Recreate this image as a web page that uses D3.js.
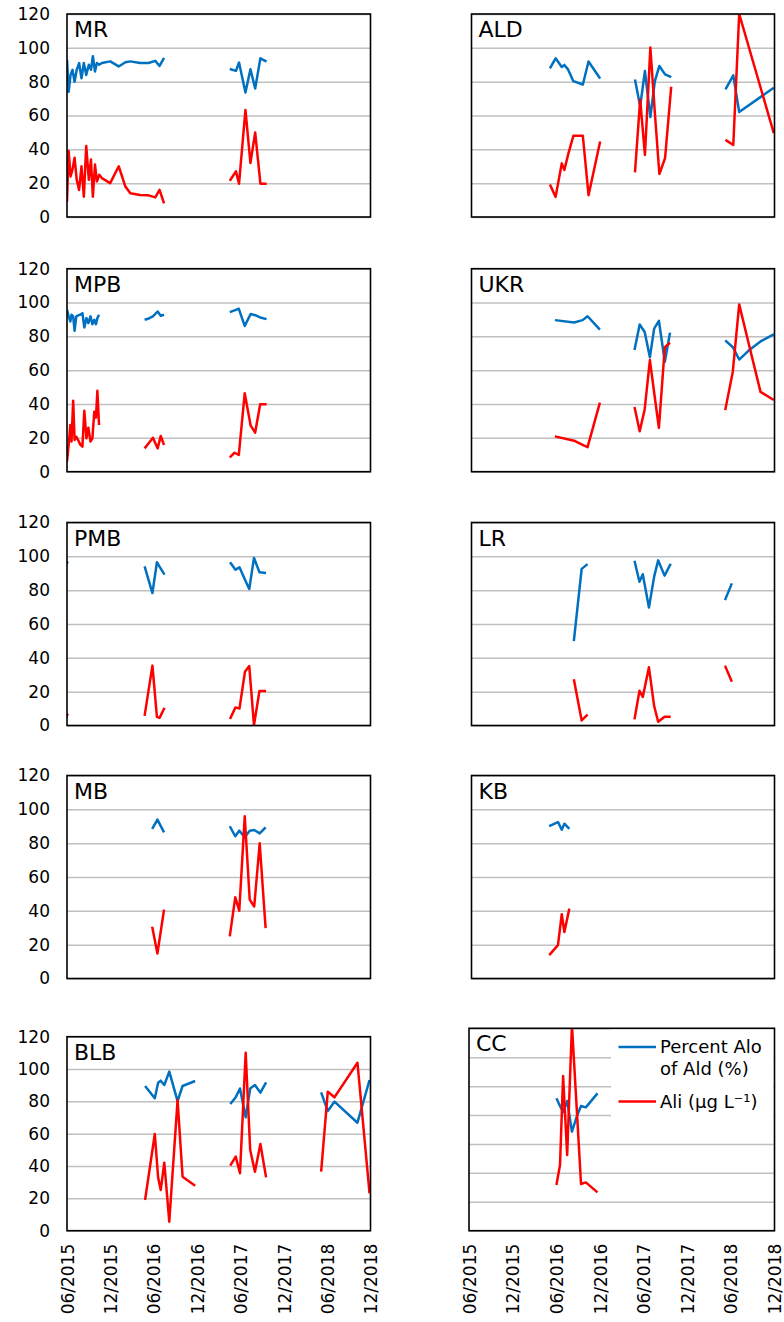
<!DOCTYPE html>
<html>
<head>
<meta charset="utf-8">
<script src="https://cdn.jsdelivr.net/npm/d3@7"></script>
<style>
  body { margin: 0; background: #fff; }
  svg text { font-family: "DejaVu Sans", Verdana, sans-serif; fill: #000; }
</style>
</head>
<body>
<div id="chart"></div>
<script>
// Sample dates per site (null = gap between seasons), Percent Alo of Ald (%), Ali (ug/L)
const MR_dates = ["2015-06-01","2015-06-08","2015-06-16","2015-06-24","2015-07-03","2015-07-12","2015-07-22","2015-08-01","2015-08-11","2015-08-21","2015-09-01","2015-09-10","2015-09-18","2015-09-27","2015-10-05","2015-10-15","2015-10-26","2015-11-30","2016-01-05","2016-02-02","2016-02-23","2016-04-04","2016-05-09","2016-06-07","2016-06-25","2016-07-14", null, "2017-04-17","2017-05-13","2017-05-26","2017-06-22","2017-07-13","2017-08-02","2017-08-24","2017-09-19"];
const MR_alo = [93,74,84,87,80,87,91,82,91,84,90,87,95,86,91,90,91,92,89,91.5,92,91,91,92.3,89.3,94, null, 87.5,86.4,91.3,73.6,87.3,76,93.8,91.9];
const MR_ali = [9,39,24,28,35,22,16,30,12,42,22,34,12,31,21,25,23,20,30,18,14,13,12.8,11.6,16,8, null, 21.4,27,19.7,63.3,31.9,50,19.7,19.7];

const ALD_dates = ["2016-04-27","2016-05-21","2016-06-16","2016-06-27","2016-07-13","2016-08-04","2016-09-13","2016-10-07","2016-11-25", null, "2017-04-21","2017-05-13","2017-06-02","2017-06-25","2017-07-14","2017-08-02","2017-08-26","2017-09-21", null, "2018-05-08","2018-06-10","2018-07-05","2018-11-28"];
const ALD_alo = [87.9,93.8,88.7,89.9,87.1,80.3,78.3,91.9,81.9, null, 81.3,65.4,86.3,59.1,80.3,89.3,84.3,82.7, null, 75.4,83.7,62.1,76.4];
const ALD_ali = [19.2,11.9,31.7,27.8,37,48,48,12.9,44.6, null, 26.4,69.4,36.7,100.2,61.5,25.4,34.7,77, null, 45.6,42.6,120,49.6];

const MPB_dates = ["2015-06-01","2015-06-08","2015-06-15","2015-06-20","2015-06-27","2015-07-03","2015-07-10","2015-07-18","2015-07-27","2015-08-05","2015-08-13","2015-08-22","2015-08-30","2015-09-08","2015-09-16","2015-09-24","2015-10-01","2015-10-07","2015-10-14", null, "2016-04-23","2016-05-11","2016-05-28","2016-06-17","2016-06-30","2016-07-14", null, "2017-04-17","2017-05-07","2017-05-25","2017-06-19","2017-07-14","2017-08-02","2017-08-23","2017-09-19"];
const MPB_alo = [95.7,91.8,88.8,92.8,91.8,83.3,91.8,92.4,92.8,93.7,85.3,90.8,87.8,91.8,87.2,89.8,87.2,90.8,92.8, null, 89.8,90.6,91.8,94.7,92.2,92.8, null, 94.3,95.4,96.3,86.2,93.2,92.5,91.2,90.2];
const MPB_ali = [5.9,15.8,27.6,17.8,42,18.7,20.7,18.7,16,14.8,36,19.7,26,17.8,19.7,35.5,32,47.8,27.6, null, 13.8,17,20.1,13.8,21.1,15.8, null, 8.5,11.2,9.9,46.4,27.2,23.1,39.9,39.9];

const UKR_dates = ["2016-05-18","2016-08-07","2016-09-12","2016-10-03","2016-11-24", null, "2017-04-19","2017-05-11","2017-06-01","2017-06-23","2017-07-11","2017-07-31","2017-08-25","2017-09-16", null, "2018-05-07","2018-06-08","2018-07-05","2018-08-14","2018-10-03","2018-11-28"];
const UKR_alo = [89.6,88.2,89.6,91.9,84, null, 72,87,82.6,67.7,84.6,89.2,65,82.2, null, 77.6,73.6,66.3,71.6,77,81.2];
const UKR_ali = [20.9,18.3,15.9,14.5,40.8, null, 38.2,23.9,36.8,66,46.8,25.9,73.6,76.2, null, 36.4,59.1,98.9,75.8,47.2,42.4];

const PMB_dates = ["2015-05-20","2015-06-05", null, "2016-04-23","2016-05-26","2016-06-14","2016-06-25","2016-07-16", null, "2017-04-18","2017-05-11","2017-05-28","2017-06-20","2017-07-08","2017-07-28","2017-08-20","2017-09-17"];
const PMB_alo = [94,97, null, 94.1,78.3,96.5,93.9,89.2, null, 96.5,92.1,93.5,86.2,80.7,99,90.6,90.2];
const PMB_ali = [3,7, null, 5.7,35.4,5.1,4.5,10.5, null, 3.8,10.7,10.1,31.8,35.2,0.2,20.4,20.4];

const LR_dates = ["2016-08-06","2016-09-08","2016-10-03", null, "2017-04-19","2017-05-10","2017-05-24","2017-06-19","2017-07-11","2017-07-28","2017-08-24","2017-09-19", null, "2018-05-06","2018-06-04"];
const LR_alo = [49.9,92.6,95.4, null, 97.4,85,89.4,69.7,88,97.6,88.6,95.6, null, 74.1,84];
const LR_ali = [27.4,3,6.4, null, 3.6,20.5,16.9,34.4,11.5,2.2,5.2,5.2, null, 35.4,25.8];

const MB_dates = ["2016-05-25","2016-06-16","2016-07-14", null, "2017-04-17","2017-05-10","2017-05-27","2017-06-19","2017-07-10","2017-07-29","2017-08-21","2017-09-15"];
const MB_alo = [88.4,93.9,86.4, null, 90,84.1,87.4,83.5,87.4,87.8,85.8,89.4];
const MB_ali = [30.6,14.8,40.7, null, 24.9,48,40.1,95.9,46.6,42.6,79.9,29.8];

const KB_dates = ["2016-04-24","2016-05-31","2016-06-16","2016-06-27","2016-07-18"];
const KB_alo = [90.1,92.5,87.9,91.5,88.5];
const KB_ali = [13.8,19.7,38,27.5,41.3];

const BLB_dates = ["2016-04-25","2016-06-05","2016-06-19","2016-06-30","2016-07-15","2016-08-05","2016-09-09","2016-09-30","2016-11-22", null, "2017-04-19","2017-05-12","2017-05-30","2017-06-23","2017-07-12","2017-08-01","2017-08-24","2017-09-17", null, "2018-05-07","2018-06-04","2018-07-02","2018-10-07","2018-11-27"];
const BLB_alo = [89.5,81.9,91.5,92.8,90.1,98.4,80.2,89.5,92.6, null, 78.4,82.5,88,70.1,88,90.1,85.4,91.8, null, 85.6,74,79.8,66.8,93.2];
const BLB_ali = [19,59.8,32.9,25.2,42.1,5.6,80.8,33.4,27.8, null, 40.2,45.8,35.5,110.1,49.9,36.5,53.6,33, null, 36.5,86,82.5,103.9,23.1];

const CC_dates = ["2016-06-01","2016-06-16","2016-06-29","2016-07-16","2016-08-05","2016-08-25","2016-09-12","2016-10-02","2016-11-20"];
const CC_alo = [91.6,86.3,82,89.7,68.5,78.9,86.3,85.3,95];
const CC_ali = [31.6,45.4,107,52.4,142,84.6,32.3,33.4,26.5];

// tick values
const yTicks = [0, 20, 40, 60, 80, 100, 120];
const yTicksCC = [0, 20, 40, 60, 80, 100, 120, 140];
const xTicks = ["2015-06-01","2015-12-01","2016-06-01","2016-12-01","2017-06-01","2017-12-01","2018-06-01","2018-12-01"];

const sites = [
  { name: "MR",  dates: MR_dates,  alo: MR_alo,  ali: MR_ali },
  { name: "ALD", dates: ALD_dates, alo: ALD_alo, ali: ALD_ali },
  { name: "MPB", dates: MPB_dates, alo: MPB_alo, ali: MPB_ali },
  { name: "UKR", dates: UKR_dates, alo: UKR_alo, ali: UKR_ali },
  { name: "PMB", dates: PMB_dates, alo: PMB_alo, ali: PMB_ali },
  { name: "LR",  dates: LR_dates,  alo: LR_alo,  ali: LR_ali },
  { name: "MB",  dates: MB_dates,  alo: MB_alo,  ali: MB_ali },
  { name: "KB",  dates: KB_dates,  alo: KB_alo,  ali: KB_ali },
  { name: "BLB", dates: BLB_dates, alo: BLB_alo, ali: BLB_ali },
  { name: "CC",  dates: CC_dates,  alo: CC_alo,  ali: CC_ali }
];

const parse = d3.timeParse("%Y-%m-%d");
const fmt = d3.timeFormat("%m/%Y");
const BLUE = "#0070C0", RED = "#FF0000";

const svg = d3.select("#chart").append("svg")
  .attr("width", 784).attr("height", 1322);

const rowTops = [14, 268.7, 522.5, 775.5];

sites.forEach((s, i) => {
  const col = i % 2, row = Math.floor(i / 2);
  let left = col === 0 ? 67 : 471.5;
  const right = col === 0 ? 370.5 : 774.5;
  let top, bottom;
  if (row < 4) {
    top = rowTops[row];
    bottom = top + 203;
  } else {
    bottom = 1230.7;
    top = col === 0 ? 1036.7 : 1028.3;
    if (col === 1) left = 469;
  }
  const w = right - left, h = bottom - top;
  const isCC = s.name === "CC";
  const ticks = isCC ? yTicksCC : yTicks;

  const x = d3.scaleTime()
    .domain([parse(xTicks[0]), parse(xTicks[xTicks.length - 1])])
    .range([0, w]);
  const y = d3.scaleLinear()
    .domain([0, isCC ? 140 : 120])
    .range([h, 0]);

  const g = svg.append("g").attr("transform", `translate(${left},${top})`);

  // gridlines + left labels
  const yAxis = d3.axisLeft(y).tickValues(ticks).tickSize(-w).tickPadding(17)
    .tickFormat(col === 0 ? d3.format("d") : () => "");
  const ya = g.append("g").call(yAxis);
  ya.select(".domain").remove();
  ya.selectAll("line").attr("stroke", "#c0c0c0").attr("stroke-width", 1.5);
  ya.selectAll("text").style("font-size", "17px");

  // bottom row date labels
  if (row === 4) {
    const xa = g.append("g").attr("transform", `translate(0,${h})`)
      .call(d3.axisBottom(x).tickValues(xTicks.map(parse)).tickSize(0).tickFormat(fmt));
    xa.select(".domain").remove();
    xa.selectAll("text")
      .style("font-size", "17px")
      .attr("transform", "rotate(-90)")
      .attr("text-anchor", "end")
      .attr("x", -13).attr("y", 0).attr("dy", "0.36em");
  }

  // legend background hides part of the gridlines in CC
  if (isCC) {
    g.append("rect").attr("x", 611 - left).attr("y", 1).attr("width", right - 611 - 1).attr("height", 106)
      .attr("fill", "#fff");
  }

  const clipId = "clip" + i;
  g.append("clipPath").attr("id", clipId).append("rect")
    .attr("x", 0).attr("y", 0).attr("width", w).attr("height", h);

  const rows = s.dates.map((d, k) => ({ date: d ? parse(d) : null, alo: s.alo[k], ali: s.ali[k] }));

  [["alo", BLUE], ["ali", RED]].forEach(([key, color]) => {
    const line = d3.line()
      .defined(d => d.date && d[key] != null)
      .x(d => x(d.date))
      .y(d => y(d[key]));
    g.append("path")
      .datum(rows)
      .attr("clip-path", `url(#${clipId})`)
      .attr("fill", "none")
      .attr("stroke", color)
      .attr("stroke-width", 2.5)
      .attr("stroke-linejoin", "round")
      .attr("d", line);
  });

  // frame
  g.append("rect").attr("width", w).attr("height", h)
    .attr("fill", "none").attr("stroke", "#000").attr("stroke-width", 1.6);

  g.append("text").attr("x", 7).attr("y", 23)
    .style("font-size", "22px").text(s.name);

  if (isCC) {
    const lg = svg.append("g");
    const items = [
      { color: BLUE, lines: ["Percent Alo", "of Ald (%)"], y: 1047 },
      { color: RED, lines: ["Ali (\u00b5g L\u207b\u00b9)"], y: 1101.5 }
    ];
    items.forEach(it => {
      lg.append("line").attr("x1", 618.5).attr("x2", 656).attr("y1", it.y).attr("y2", it.y)
        .attr("stroke", it.color).attr("stroke-width", 2.5);
      it.lines.forEach((t, k) => {
        lg.append("text").attr("x", 660).attr("y", it.y + 6 + k * 22)
          .style("font-size", "18px").text(t);
      });
    });
  }
});
</script>
</body>
</html>
